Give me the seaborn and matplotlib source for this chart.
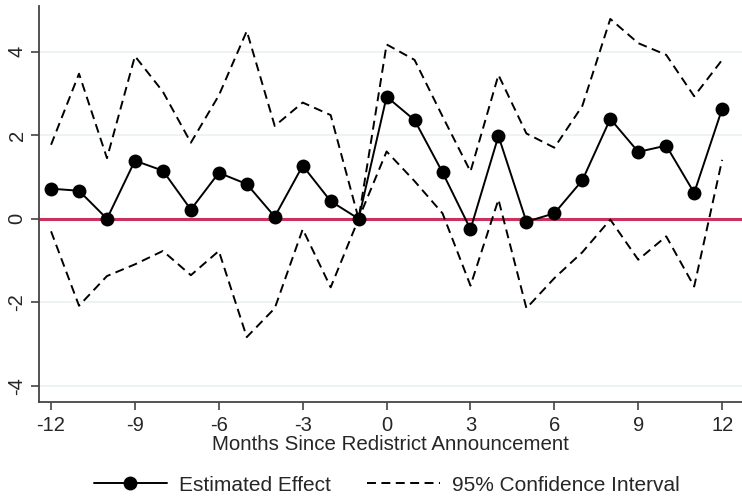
import numpy as np
import matplotlib
matplotlib.use("Agg")
import matplotlib.pyplot as plt
import seaborn as sns
from matplotlib.lines import Line2D

# months relative to announcement
months = list(range(-12, 13))

# point estimates
estimate = [0.72, 0.67, 0.0, 1.39, 1.15, 0.22, 1.10, 0.83, 0.05, 1.27, 0.42, 0.0,
            2.92, 2.36, 1.11, -0.25, 1.98, -0.07, 0.13, 0.92, 2.39, 1.60, 1.75, 0.62, 2.63]

# 95% CI bounds
ci_upper = [1.77, 3.47, 1.45, 3.89, 3.04, 1.82, 2.95, 4.49, 2.22, 2.78, 2.48, 0.0,
            4.17, 3.80, 2.45, 1.13, 3.44, 2.04, 1.70, 2.70, 4.78, 4.20, 3.92, 2.93, 3.80]
ci_lower = [-0.30, -2.08, -1.37, -1.09, -0.77, -1.35, -0.77, -2.83, -2.14, -0.25, -1.64, 0.0,
            1.61, 0.90, 0.13, -1.60, 0.46, -2.14, -1.42, -0.80, -0.02, -0.98, -0.42, -1.62, 1.41]

xticks = [-12, -9, -6, -3, 0, 3, 6, 9, 12]
yticks = [-4, -2, 0, 2, 4]

sns.set_style("white")
plt.rcParams['font.family'] = ['Liberation Sans', 'DejaVu Sans']

dash = (0, (4.6, 2.8))

fig = plt.figure(figsize=(7.42, 4.98), dpi=100)
ax = fig.add_axes([0.0526, 0.193, 0.9474, 0.795])

for yt in yticks:
    ax.axhline(yt, color="#eaf0f1", lw=1.2, zorder=0)
ax.axhline(0, color="#c8325c", lw=2.2, zorder=1)

sns.lineplot(x=months, y=ci_upper, ax=ax, color="black", lw=1.4,
             linestyle=dash, zorder=2)
sns.lineplot(x=months, y=ci_lower, ax=ax, color="black", lw=1.4,
             linestyle=dash, zorder=2)
sns.lineplot(x=months, y=estimate, ax=ax, color="black", lw=1.4,
             marker="o", markersize=10, markeredgewidth=0, zorder=3)

ax.set_xlim(-12.43, 12.71)
ax.set_ylim(-4.38, 5.09)
ax.set_xticks(xticks)
ax.set_yticks(yticks)
ax.set_xticklabels([str(t) for t in xticks], fontsize=14.5)
ax.set_yticklabels([str(t) for t in yticks], fontsize=14.5, rotation=90, va="center")
ax.tick_params(axis="both", direction="out", length=6, width=1.2, color="#444444",
               left=True, bottom=True)
ax.tick_params(axis="x", pad=4)
ax.tick_params(axis="y", pad=3)

for s in ["top", "right"]:
    ax.spines[s].set_visible(False)
for s in ["left", "bottom"]:
    ax.spines[s].set_color("#444444")
    ax.spines[s].set_linewidth(1.3)

ax.set_xlabel("Months Since Redistrict Announcement", fontsize=14.8, labelpad=0)
ax.set_ylabel("")

handles = [
    Line2D([], [], color="black", lw=1.4, marker="o", markersize=10, markeredgewidth=0),
    Line2D([], [], color="black", lw=1.4, linestyle=dash),
]
fig.legend(handles, ["Estimated Effect", "95% Confidence Interval"],
           loc="center", bbox_to_anchor=(0.5215, 0.026), ncol=2, frameon=False,
           fontsize=15, handlelength=3.5, columnspacing=1.7, handletextpad=0.6)

fig.savefig("out.png", dpi=100)
